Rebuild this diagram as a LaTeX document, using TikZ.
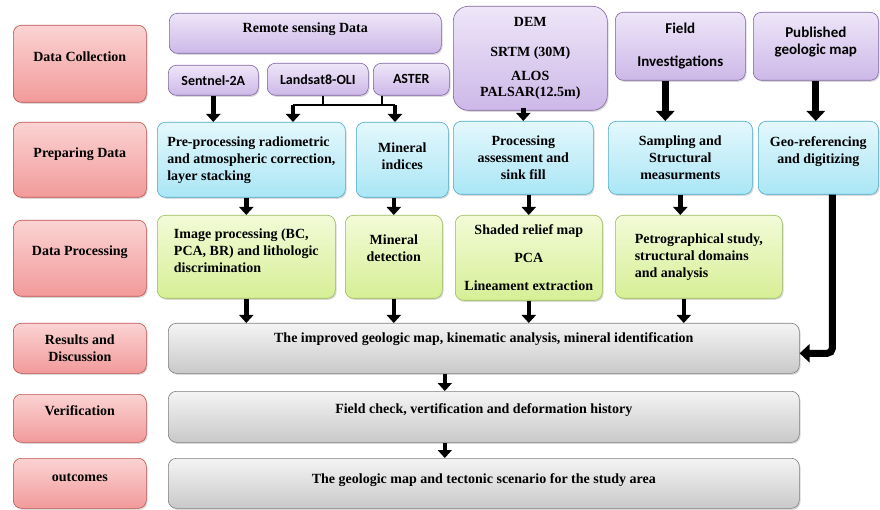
\documentclass[tikz,border=0pt]{standalone}
\usepackage{fontspec}
\setmainfont{Liberation Serif}
\newfontfamily\calfont{Carlito}
\usepackage{tikz}
\usetikzlibrary{arrows.meta, positioning, shadows}

\definecolor{stagetop}{HTML}{FBD3D3}
\definecolor{stagebot}{HTML}{F29A9A}
\definecolor{stageline}{HTML}{C0504D}
\definecolor{srctop}{HTML}{EEE6F8}
\definecolor{srcbot}{HTML}{CDB8E8}
\definecolor{srcline}{HTML}{8064A2}
\definecolor{preptop}{HTML}{E4F8FD}
\definecolor{prepbot}{HTML}{AAE6F5}
\definecolor{prepline}{HTML}{4BACC6}
\definecolor{proctop}{HTML}{F3FBD8}
\definecolor{procbot}{HTML}{D6EF95}
\definecolor{procline}{HTML}{9BBB59}
\definecolor{restop}{HTML}{F4F4F4}
\definecolor{resbot}{HTML}{C9C9C9}
\definecolor{resline}{HTML}{7F7F7F}

\begin{document}
\begin{tikzpicture}[
  x=1pt, y=-1pt,
  wh/.style 2 args={minimum width=#1pt, minimum height=#2pt},
  lift/.style={text depth=#1pt},
  block/.style={
    rectangle, rounded corners=8pt, anchor=north west,
    inner sep=3pt, align=center, line width=0.6pt,
    font=\bfseries\fontsize{14}{17}\selectfont,
    drop shadow={shadow xshift=1.2pt, shadow yshift=-1.5pt, opacity=0.3}
  },
  stage/.style={block, draw=stageline, top color=stagetop, bottom color=stagebot},
  srcblock/.style={block, draw=srcline, top color=srctop, bottom color=srcbot},
  satblock/.style={srcblock, font=\calfont\bfseries\fontsize{14}{15}\selectfont},
  fieldblock/.style={srcblock, font=\calfont\bfseries\fontsize{15}{17}\selectfont},
  prepblock/.style={block, draw=prepline, top color=preptop, bottom color=prepbot},
  procblock/.style={block, draw=procline, top color=proctop, bottom color=procbot},
  resblock/.style={block, draw=resline, top color=restop, bottom color=resbot},
  arr/.style={-{Triangle[length=8pt, width=14pt]}, line width=4.5pt, black},
  bigarr/.style={-{Triangle[length=10pt, width=18pt]}, line width=7pt, black},
  link/.style={line width=2pt, black}
]
\useasboundingbox (0,0) rectangle (880,510);

% stages
\node[stage, wh={133}{77}, lift=15] (dc) at (13,25)  {Data Collection};
\node[stage, wh={133}{75}, lift=15] (pd) at (13,122) {Preparing Data};
\node[stage, wh={133}{76}, lift=15] (dp) at (13,220) {Data Processing};
\node[stage, wh={133}{50}] (rd) at (13,323) {Results and\\Discussion};
\node[stage, wh={133}{48}, lift=15] (vf) at (13,394) {Verification};
\node[stage, wh={133}{50}, lift=12] (oc) at (13,458) {outcomes};

% data sources
\node[srcblock, wh={272}{40}, lift=11] (rs) at (169,13) {Remote sensing Data};
\node[satblock, wh={90}{30}]  (s2) at (168,65) {Sentnel-2A};
\node[satblock, wh={101}{32}] (l8) at (267,63) {Landsat8-OLI};
\node[satblock, wh={76}{32}]  (as) at (373,63) {ASTER};
\node[srcblock, wh={154}{104}, rounded corners=15pt] (dem) at (453,6)
  {DEM\\[13pt]SRTM (30M)\\[7pt]ALOS\\[-1pt]PALSAR(12.5m)};
\node[fieldblock, wh={130}{68}] (fi) at (615,12) {Field\\[16pt]Investigations};
\node[fieldblock, wh={125}{68}, lift=12] (pg) at (753,12) {Published\\geologic map};

% preparing
\node[prepblock, wh={188}{75}, align=left] (pp) at (157,122)
  {Pre-processing radiometric\\and atmospheric correction,\\layer stacking};
\node[prepblock, wh={92}{75}, lift=8]  (mi) at (356,122) {Mineral\\indices};
\node[prepblock, wh={140}{73}] (pa) at (453,121) {Processing\\assessment and\\sink fill};
\node[prepblock, wh={144}{73}] (sa) at (608,121) {Sampling and\\Structural\\measurments};
\node[prepblock, wh={120}{73}, lift=15] (gr) at (758,121) {Geo-referencing\\and digitizing};

% processing
\node[procblock, wh={178}{83}, align=left, lift=12] (ip) at (157,215)
  {Image processing (BC,\\PCA, BR) and lithologic\\discrimination};
\node[procblock, wh={97}{83}, lift=17]  (md) at (345,215) {Mineral\\detection};
\node[procblock, wh={147}{85}] (sr) at (455,215)
  {Shaded relief map\\[11pt]PCA\\[11pt]Lineament extraction};
\node[procblock, wh={167}{83}, align=left] (pe) at (615,215)
  {Petrographical study,\\structural domains\\and analysis};

% results
\node[resblock, wh={631}{50}, lift=21] (g1) at (168,323)
  {The improved geologic map, kinematic analysis, mineral identification};
\node[resblock, wh={631}{51}, lift=16] (g2) at (168,391)
  {Field check, vertification and deformation history};
\node[resblock, wh={631}{50}, lift=9] (g3) at (168,458)
  {The geologic map and tectonic scenario for the study area};

% connectors
\coordinate (jl) at (293,105);
\coordinate (jr) at (395,105);
\draw[arr] (s2.south) -- (s2.south |- pp.north);
\draw[link] ([xshift=5pt]l8.south) -- ([xshift=5pt]l8.south |- jl);
\draw[link] ([xshift=-29pt]as.south) -- ([xshift=-29pt]as.south |- jr);
\draw[link] (jl) -- (jr);
\draw[arr] (jl) -- (jl |- pp.north);
\draw[arr] (jr) -- (jr |- mi.north);
\draw[arr] ([xshift=-7pt, yshift=3pt]dem.south) -- ([xshift=-7pt]dem.south |- pa.north);
\draw[bigarr] ([xshift=-15pt]fi.south) -- ([xshift=-15pt]fi.south |- sa.north);
\draw[bigarr] (pg.south) -- (pg.south |- gr.north);

\draw[arr] (pp.south -| ip.north) -- (ip.north);
\draw[arr] (mi.south -| md.north) -- (md.north);
\draw[arr] (pa.south -| sr.north) -- (sr.north);
\draw[arr] (sa.south) -- (sa.south |- pe.north);
\draw[bigarr, rounded corners=5pt] ([xshift=14pt]gr.south) |- ([yshift=-5pt]g1.east);

\draw[arr] (ip.south) -- (ip.south |- g1.north);
\draw[arr] (md.south) -- (md.south |- g1.north);
\draw[arr] (sr.south) -- (sr.south |- g1.north);
\draw[arr] ([xshift=-15pt]pe.south) -- ([xshift=-15pt]pe.south |- g1.north);
\draw[arr] ([xshift=-39pt]g1.south) -- ([xshift=-39pt]g2.north);
\draw[arr] ([xshift=-39pt]g2.south) -- ([xshift=-39pt]g3.north);
\end{tikzpicture}
\end{document}
